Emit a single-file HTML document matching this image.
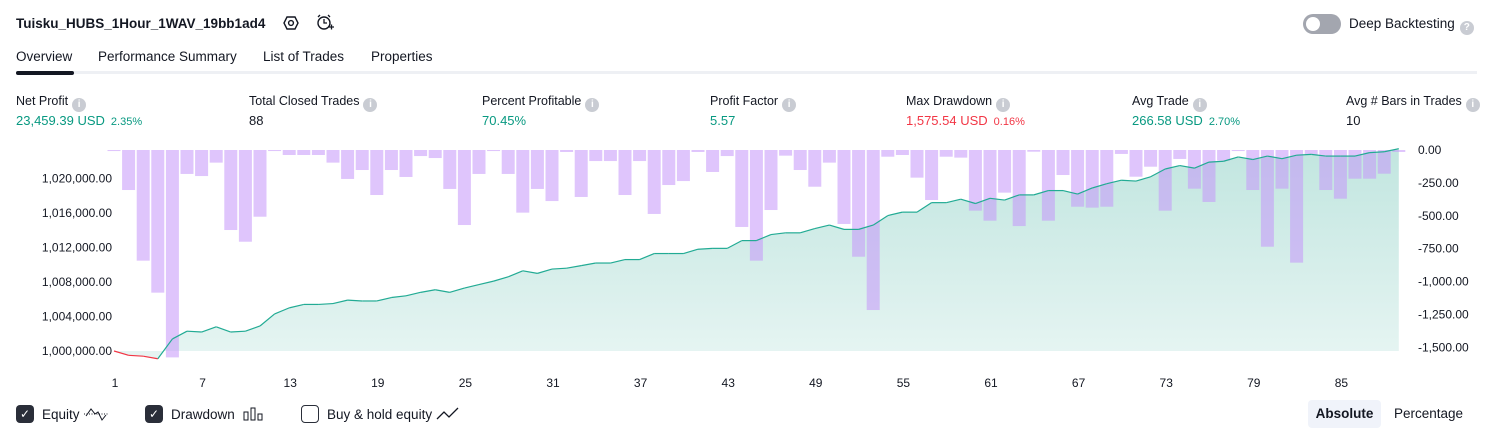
<!DOCTYPE html>
<html><head><meta charset="utf-8"><style>
*{box-sizing:border-box}
body{margin:0;width:1494px;height:438px;background:#fff;font-family:"Liberation Sans",sans-serif;color:#131722;position:relative;overflow:hidden;font-size:13px}
.abs{position:absolute;white-space:nowrap}
.lbl{font-size:12.5px;color:#131722}
.info{display:inline-block;width:14px;height:14px;border-radius:50%;background:#c9ccd3;color:#fff;font-size:10px;font-weight:bold;text-align:center;line-height:14px;vertical-align:-2px;margin-left:4px}
.val{font-size:13px}
.g{color:#089981}.r{color:#f23645}
.sm{font-size:11px;margin-left:6px}
.tab{font-size:13.5px}
.leg{display:flex;align-items:center;font-size:13.5px;height:20px}
.cb{display:inline-block;width:18px;height:18px;border-radius:4px;margin-right:8px;flex:none}
</style></head><body>
<div class="abs" style="left:16px;top:16px;font-weight:bold;font-size:13.5px">Tuisku_HUBS_1Hour_1WAV_19bb1ad4</div>
<svg class="abs" style="left:283px;top:15px" width="16" height="16"><polygon points="4,2 12,2 15,8 12,14 4,14 1,8" fill="none" stroke="#131722" stroke-width="1.4"/><circle cx="8" cy="8" r="2.4" fill="none" stroke="#131722" stroke-width="1.4"/></svg>
<svg class="abs" style="left:316px;top:14px" width="18" height="18"><circle cx="8" cy="9" r="6" fill="none" stroke="#131722" stroke-width="1.4"/><path d="M8 5v4h3M2 3l2-2M14 3l-2-2M13 13h5M15.5 10.5v5" stroke="#131722" stroke-width="1.3" fill="none"/></svg>
<div class="abs" style="left:1303px;top:14px;width:38px;height:20px;border-radius:10px;background:#a3a6af"><div style="position:absolute;left:3px;top:3px;width:14px;height:14px;border-radius:50%;background:#fff"></div></div>
<div class="abs" style="left:1349px;top:16px;font-size:13.5px">Deep Backtesting<span class="info" style="margin-left:5px">?</span></div>

<div class="abs tab" style="left:16px;top:49px">Overview</div>
<div class="abs tab" style="left:98px;top:49px">Performance Summary</div>
<div class="abs tab" style="left:263px;top:49px">List of Trades</div>
<div class="abs tab" style="left:371px;top:49px">Properties</div>
<div class="abs" style="left:16px;top:71px;width:1461px;height:3px;background:#eef0f4"></div>
<div class="abs" style="left:16px;top:71px;width:58px;height:4px;border-radius:2px;background:#131722"></div>

<div class="abs lbl" style="left:16px;top:94px">Net Profit<span class="info">i</span></div>
<div class="abs val g" style="left:16px;top:113px">23,459.39 USD<span class="sm">2.35%</span></div>
<div class="abs lbl" style="left:249px;top:94px">Total Closed Trades<span class="info">i</span></div>
<div class="abs val" style="left:249px;top:113px">88</div>
<div class="abs lbl" style="left:482px;top:94px">Percent Profitable<span class="info">i</span></div>
<div class="abs val g" style="left:482px;top:113px">70.45%</div>
<div class="abs lbl" style="left:710px;top:94px">Profit Factor<span class="info">i</span></div>
<div class="abs val g" style="left:710px;top:113px">5.57</div>
<div class="abs lbl" style="left:906px;top:94px">Max Drawdown<span class="info">i</span></div>
<div class="abs val r" style="left:906px;top:113px">1,575.54 USD<span class="sm">0.16%</span></div>
<div class="abs lbl" style="left:1132px;top:94px">Avg Trade<span class="info">i</span></div>
<div class="abs val g" style="left:1132px;top:113px">266.58 USD<span class="sm">2.70%</span></div>
<div class="abs lbl" style="left:1346px;top:94px">Avg # Bars in Trades<span class="info">i</span></div>
<div class="abs val" style="left:1346px;top:113px">10</div>

<svg id="chart" class="abs" style="left:0;top:0" width="1494" height="390"></svg>

<div class="abs leg" style="left:16px;top:404px"><span class="cb" style="background:#2a2e39;color:#fff;font-size:12px;text-align:center;line-height:18px">✓</span>Equity&nbsp;<svg width="26" height="14"><path d="M1 7h24" stroke="#131722" stroke-dasharray="1 1.5"/><path d="M3 9l5-7 4 5 3-2 4 8 4-5" stroke="#131722" fill="none"/></svg></div>
<div class="abs leg" style="left:145px;top:404px"><span class="cb" style="background:#2a2e39;color:#fff;font-size:12px;text-align:center;line-height:18px">✓</span>Drawdown&nbsp;<svg width="22" height="14" style="margin-left:4px"><rect x="1" y="5" width="4" height="8" fill="none" stroke="#131722"/><rect x="8" y="1" width="4" height="12" fill="none" stroke="#131722"/><rect x="15" y="7" width="4" height="6" fill="none" stroke="#131722"/></svg></div>
<div class="abs leg" style="left:301px;top:404px"><span class="cb" style="border:1.5px solid #2a2e39"></span>Buy &amp; hold equity&nbsp;<svg width="24" height="14"><path d="M1 12l7-7 5 5 9-9" stroke="#131722" fill="none" stroke-width="1.3"/></svg></div>
<div class="abs" style="left:1308px;top:400px;width:73px;height:28px;background:#f0f3fa;border-radius:4px;text-align:center;line-height:28px;font-weight:bold;font-size:13.5px">Absolute</div>
<div class="abs" style="left:1394px;top:406px;font-size:13.5px">Percentage</div>

<script>
const tickLabels=[1,7,13,19,25,31,37,43,49,55,61,67,73,79,85];
const leftTicks=[1000000,1004000,1008000,1012000,1016000,1020000];
const rightTicks=[0,-250,-500,-750,-1000,-1250,-1500];
const equityK=[0,-0.5,-0.6,-0.9,1.4,2.3,2.2,2.8,2.2,2.3,2.9,4.3,5.0,5.4,5.4,5.5,5.9,5.8,5.8,6.2,6.4,6.8,7.1,6.8,7.3,7.7,8.1,8.6,9.3,9.0,9.5,9.6,9.9,10.2,10.2,10.6,10.6,11.3,11.3,11.3,11.8,11.9,11.9,12.8,12.8,13.5,13.7,13.7,14.2,14.6,14.1,14.1,14.6,15.7,16.1,16.1,17.2,17.2,17.6,17.1,17.7,17.5,18.1,18.1,18.6,18.6,18.2,18.9,19.4,19.8,19.7,20.2,21.1,21.5,21.2,21.9,22.0,22.5,22.2,22.6,22.3,22.7,22.8,22.6,22.6,22.6,23.0,23.1,23.46];
const drawdown=[-8,-304,-841,-1084,-1576,-182,-198,-96,-608,-697,-507,-8,-38,-38,-38,-96,-220,-152,-342,-152,-205,-46,-61,-296,-570,-182,-8,-182,-476,-296,-388,-15,-357,-84,-84,-342,-84,-486,-266,-236,-15,-167,-46,-585,-841,-456,-43,-152,-279,-96,-562,-811,-1216,-51,-38,-210,-380,-51,-58,-461,-537,-324,-578,-13,-537,-190,-431,-438,-431,-30,-203,-127,-461,-68,-294,-395,-81,-8,-304,-735,-294,-856,-38,-304,-370,-218,-218,-180,-15];
const NS='http://www.w3.org/2000/svg';
const svg=document.getElementById('chart');
const X=i=>114+i*14.6;
const YL=v=>351-(v-1000000)/4000*34.5;
const YR=v=>150-v/250*32.9;
function mk(t,a){const e=document.createElementNS(NS,t);for(const k in a)e.setAttribute(k,a[k]);svg.appendChild(e);return e;}
const defs=mk('defs',{});
defs.innerHTML='<linearGradient id="gf" x1="0" y1="0" x2="0" y2="1"><stop offset="0" stop-color="#089981" stop-opacity="0.25"/><stop offset="1" stop-color="#089981" stop-opacity="0.1"/></linearGradient>';
let pts=equityK.map((v,i)=>[X(i),YL(1000000+v*1000)]);
let d='M'+X(0)+' '+YL(1000000)+pts.map(p=>'L'+p[0]+' '+p[1]).join('')+'L'+X(equityK.length-1)+' '+YL(1000000)+'Z';
const area=mk('path',{d:d,fill:'url(#gf)'});


drawdown.forEach((v,i)=>{
 const b=mk('rect',{x:X(i)-6.5,y:YR(0),width:13,height:Math.max(1,YR(v)-YR(0)),fill:'rgba(196,150,250,0.55)'});
 
 
});
for(let i=1;i<pts.length;i++){
 const l=mk('line',{x1:pts[i-1][0],y1:pts[i-1][1],x2:pts[i][0],y2:pts[i][1],stroke:(equityK[i]<0?'#f23645':'#22ab94'),'stroke-width':1.2});
 
 
}
leftTicks.forEach(v=>{
 const t=mk('text',{x:112,y:YL(v)+4,'text-anchor':'end','font-size':12,fill:'#131722','font-family':'Liberation Sans'});
 t.textContent=v.toLocaleString('en-US')+'.00';
 
 
});
rightTicks.forEach(v=>{
 const t=mk('text',{x:1418,y:YR(v)+4,'font-size':12,fill:'#131722','font-family':'Liberation Sans'});
 t.textContent=v.toLocaleString('en-US',{minimumFractionDigits:2});
 
 
});
tickLabels.forEach(k=>{
 const t=mk('text',{x:X(k-1)+1,y:387,'text-anchor':'middle','font-size':12,fill:'#131722','font-family':'Liberation Sans'});
 t.textContent=k;
 
 
});
</script>
</body></html>
